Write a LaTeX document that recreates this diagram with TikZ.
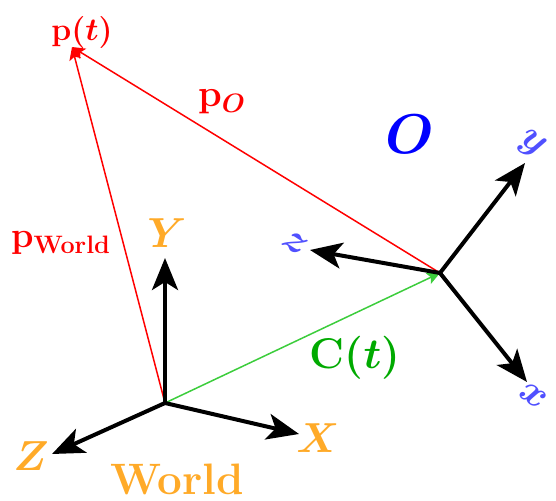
\documentclass[tikz,border=0pt]{standalone}
\usepackage{fix-cm}
\usetikzlibrary{arrows.meta}
\definecolor{myred}{RGB}{255,0,0}
\definecolor{mygreen}{RGB}{0,170,0}
\definecolor{linegreen}{RGB}{60,205,60}
\definecolor{myorange}{RGB}{255,170,40}
\definecolor{myblue}{RGB}{0,0,255}
\definecolor{axblue}{RGB}{80,80,255}
\begin{document}
\begin{tikzpicture}[x=0.5pt,y=-0.5pt,
  axis/.style={line width=2pt,-{Stealth[length=16pt,width=13pt,inset=4pt]}},
  vec/.style={line width=0.75pt,-{Stealth[length=6.5pt,width=6pt,inset=1.5pt]}},
  fsz/.style={inner sep=0pt,font=\fontsize{#1}{#1}\selectfont\boldmath\bfseries}]
\useasboundingbox (0,0) rectangle (556,501);
% frames
\coordinate (W) at (165,403);
\coordinate (WX) at (299,434);
\coordinate (WY) at (165,258);
\coordinate (WZ) at (52,454);
\coordinate (O) at (440,273);
\coordinate (Ox) at (527,382);
\coordinate (Oy) at (525,163);
\coordinate (Oz) at (310,250);
\coordinate (P) at (72,47);
% vectors
\draw[vec,myred] (W) -- (P);
\draw[vec,myred] (O) -- (P);
\draw[vec,linegreen] (W) -- (O);
% axes
\draw[axis] (W) -- (WX);
\draw[axis] (W) -- (WY);
\draw[axis] (W) -- (WZ);
\draw[axis] (O) -- (Ox);
\draw[axis] (O) -- (Oy);
\draw[axis] (O) -- (Oz);
% labels
\node[fsz=16,text=myred] (lp) at (82,33) {p($t$)};
\node[fsz=19,text=myred] (lpo) at (222,102) {p$_{O}$};
\node[fsz=18,text=myred] (lpw) at (61,243) {p$_{\mathbf{World}}$};
\node[fsz=21.5,text=mygreen] (lc) at (355,358) {C($t$)};
\node[fsz=21,text=myorange] (lY) at (167,233) {$Y$};
\node[fsz=21,text=myorange] (lX) at (318,438) {$X$};
\node[fsz=21,text=myorange] (lZ) at (31,456) {$Z$};
\node[fsz=22,text=myorange] (lW) at (177,479) {World};
\node[fsz=28,text=myblue] (lO) at (410,134) {$O$};
\node[fsz=20,text=axblue,rotate=-35] (lx) at (533,396) {$x$};
\node[fsz=20,text=axblue,rotate=-35] (ly) at (532,145) {$y$};
\node[fsz=20,text=axblue,rotate=-35] (lz) at (295,243) {$z$};
\end{tikzpicture}
\end{document}
